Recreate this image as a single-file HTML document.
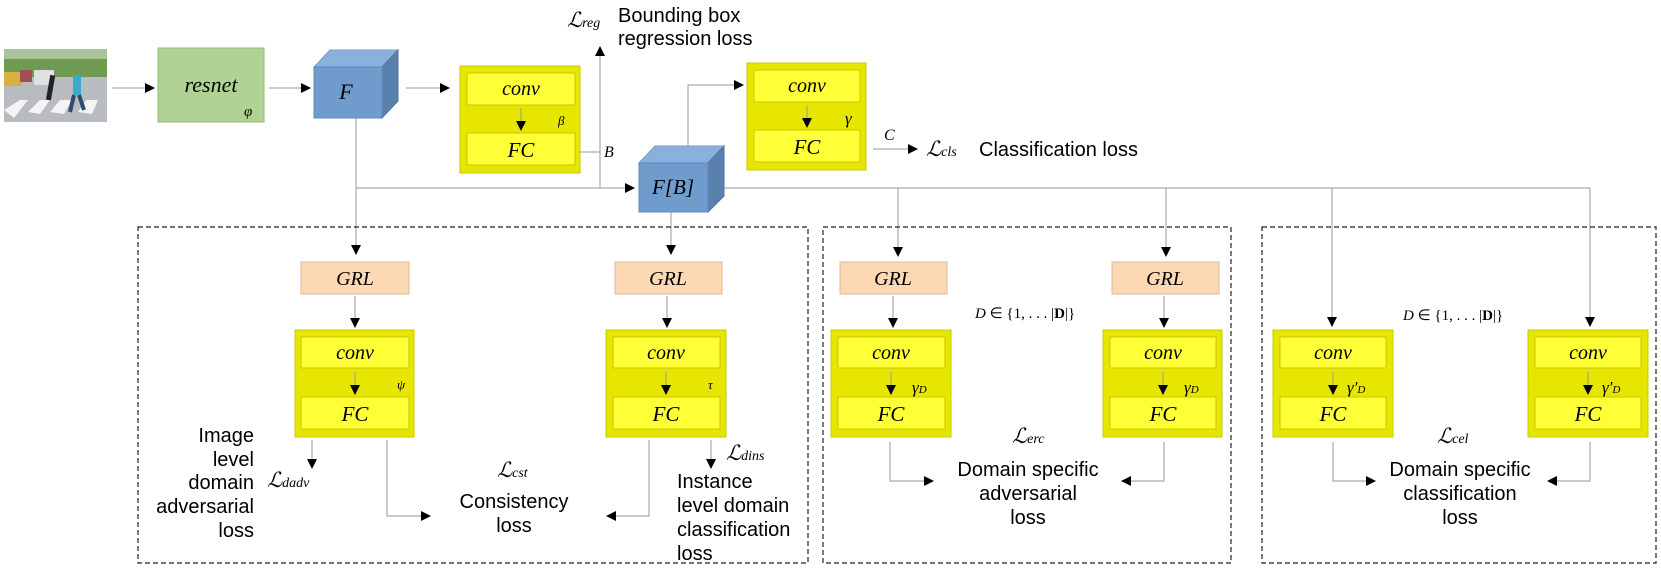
<!DOCTYPE html>
<html><head><meta charset="utf-8"><style>
html,body{margin:0;padding:0;background:#fff;}
svg{display:block;}
.m{font-family:"Liberation Serif",serif;font-style:italic;}
.s{font-family:"Liberation Sans",sans-serif;}
</style></head><body>
<svg width="1661" height="571" viewBox="0 0 1661 571" xmlns="http://www.w3.org/2000/svg">
<defs>
<marker id="a" markerWidth="10" markerHeight="10" refX="9" refY="5" orient="auto" markerUnits="userSpaceOnUse">
<path d="M0,0 L10,5 L0,10 z" fill="#000"/></marker>
<clipPath id="ic"><rect x="4" y="49" width="103" height="73"/></clipPath>
</defs>
<g clip-path="url(#ic)">
<rect x="4" y="49" width="103" height="73" fill="#b8bcc0"/>
<rect x="4" y="49" width="103" height="28" fill="#6f9a52"/>
<rect x="4" y="49" width="103" height="10" fill="#a8c498"/>
<rect x="4" y="72" width="18" height="14" fill="#d8b040"/>
<rect x="20" y="70" width="12" height="12" fill="#a05050"/>
<rect x="34" y="70" width="20" height="15" fill="#e0e0e4"/>
<g fill="#f4f4f4"><polygon points="4,110 20,100 28,100 14,118"/><polygon points="28,112 40,100 50,100 40,114"/><polygon points="50,112 60,100 72,100 64,114"/><polygon points="78,112 86,100 98,100 92,114"/></g>
<rect x="48" y="75" width="5" height="25" fill="#222" transform="rotate(10 50 88)"/>
<rect x="73" y="75" width="8" height="20" fill="#3aaccc"/>
<path d="M74,95 L70,112 M79,95 L84,110" stroke="#304a70" stroke-width="4"/>
</g>
<g stroke="#aaa" stroke-width="1.2" fill="none">
<line x1="112" y1="88" x2="154" y2="88" marker-end="url(#a)"/>
<line x1="269" y1="88" x2="310" y2="88" marker-end="url(#a)"/>
<line x1="406" y1="88" x2="449" y2="88" marker-end="url(#a)"/>
<polyline points="356,118 356,188 634,188" marker-end="url(#a)"/>
<line x1="356" y1="188" x2="356" y2="254" marker-end="url(#a)"/>
<polyline points="580,152 600,152"/>
<line x1="600" y1="188" x2="600" y2="47" marker-end="url(#a)"/>
<polyline points="688,146 688,85 743,85" marker-end="url(#a)"/>
<line x1="873" y1="149" x2="917" y2="149" marker-end="url(#a)"/>
<line x1="724" y1="188" x2="1590" y2="188"/>
<line x1="671" y1="212" x2="671" y2="254" marker-end="url(#a)"/>
<line x1="898" y1="188" x2="898" y2="256" marker-end="url(#a)"/>
<line x1="1166" y1="188" x2="1166" y2="256" marker-end="url(#a)"/>
<line x1="1332" y1="188" x2="1332" y2="326" marker-end="url(#a)"/>
<line x1="1590" y1="188" x2="1590" y2="326" marker-end="url(#a)"/>
<line x1="355" y1="296" x2="355" y2="327" marker-end="url(#a)"/>
<line x1="667" y1="296" x2="667" y2="327" marker-end="url(#a)"/>
<line x1="893" y1="296" x2="893" y2="327" marker-end="url(#a)"/>
<line x1="1164" y1="296" x2="1164" y2="327" marker-end="url(#a)"/>
<line x1="312" y1="440" x2="312" y2="468" marker-end="url(#a)"/>
<line x1="711" y1="440" x2="711" y2="468" marker-end="url(#a)"/>
<polyline points="387,440 387,516 430,516" marker-end="url(#a)"/>
<polyline points="649,440 649,516 607,516" marker-end="url(#a)"/>
<polyline points="890,442 890,481 933,481" marker-end="url(#a)"/>
<polyline points="1164,442 1164,481 1122,481" marker-end="url(#a)"/>
<polyline points="1333,442 1333,481 1375,481" marker-end="url(#a)"/>
<polyline points="1590,442 1590,481 1548,481" marker-end="url(#a)"/>
</g>
<g fill="none" stroke="#222" stroke-width="1.2" stroke-dasharray="5,3">
<rect x="138" y="227" width="670" height="336"/>
<rect x="823" y="227" width="408" height="336"/>
<rect x="1262" y="227" width="394" height="336"/>
</g>
<rect x="158" y="48" width="106" height="74" fill="#b0d394" stroke="#96b87c"/>
<text x="211" y="92" class="m" font-size="22" text-anchor="middle">resnet</text>
<text x="244" y="116" class="m" font-size="15">φ</text>
<!-- cube F -->
<polygon points="314,67 330,50 398,50 382,67" fill="#8cb0dc" stroke="#7a9cc8"/>
<polygon points="382,67 398,50 398,101 382,118" fill="#5a80ad" stroke="#52739c"/>
<rect x="314" y="67" width="68" height="51" fill="#6f9bcd" stroke="#5d88bb"/>
<text x="346" y="99" class="m" font-size="22" text-anchor="middle">F</text>
<!-- cube F[B] -->
<polygon points="639,163 655,146 724,146 708,163" fill="#8cb0dc" stroke="#7a9cc8"/>
<polygon points="708,163 724,146 724,196 708,212" fill="#5a80ad" stroke="#52739c"/>
<rect x="639" y="163" width="69" height="49" fill="#6f9bcd" stroke="#5d88bb"/>
<text x="673" y="194" class="m" font-size="21" text-anchor="middle">F[B]</text>
<g id="yb"></g>
<!-- yellow blocks -->
<g stroke="#c9c900" stroke-width="1">
<rect x="460" y="66" width="120" height="107" fill="#e6e600"/>
<rect x="467" y="73" width="108" height="32" fill="#ffff38"/>
<rect x="467" y="133" width="108" height="32" fill="#ffff38"/>
<rect x="747" y="63" width="119" height="107" fill="#e6e600"/>
<rect x="754" y="70" width="106" height="32" fill="#ffff38"/>
<rect x="754" y="130" width="106" height="32" fill="#ffff38"/>
<rect x="295" y="330" width="119" height="107" fill="#e6e600"/>
<rect x="301" y="337" width="108" height="31" fill="#ffff38"/>
<rect x="301" y="397" width="108" height="32" fill="#ffff38"/>
<rect x="606" y="330" width="120" height="107" fill="#e6e600"/>
<rect x="613" y="337" width="107" height="31" fill="#ffff38"/>
<rect x="613" y="397" width="107" height="32" fill="#ffff38"/>
<rect x="831" y="330" width="120" height="107" fill="#e6e600"/>
<rect x="838" y="337" width="107" height="31" fill="#ffff38"/>
<rect x="838" y="397" width="107" height="32" fill="#ffff38"/>
<rect x="1103" y="330" width="119" height="107" fill="#e6e600"/>
<rect x="1110" y="337" width="106" height="31" fill="#ffff38"/>
<rect x="1110" y="397" width="106" height="32" fill="#ffff38"/>
<rect x="1273" y="330" width="120" height="107" fill="#e6e600"/>
<rect x="1280" y="337" width="106" height="31" fill="#ffff38"/>
<rect x="1280" y="397" width="106" height="32" fill="#ffff38"/>
<rect x="1528" y="330" width="120" height="107" fill="#e6e600"/>
<rect x="1535" y="337" width="106" height="31" fill="#ffff38"/>
<rect x="1535" y="397" width="106" height="32" fill="#ffff38"/>
</g>
<g stroke="#999" stroke-width="1">
<line x1="521" y1="108" x2="521" y2="130" marker-end="url(#a)"/>
<line x1="807" y1="105" x2="807" y2="127" marker-end="url(#a)"/>
<line x1="355" y1="372" x2="355" y2="394" marker-end="url(#a)"/>
<line x1="666" y1="372" x2="666" y2="394" marker-end="url(#a)"/>
<line x1="891" y1="372" x2="891" y2="394" marker-end="url(#a)"/>
<line x1="1163" y1="372" x2="1163" y2="394" marker-end="url(#a)"/>
<line x1="1333" y1="372" x2="1333" y2="394" marker-end="url(#a)"/>
<line x1="1588" y1="372" x2="1588" y2="394" marker-end="url(#a)"/>
</g>
<g class="m" text-anchor="middle">
<text x="521" y="95" font-size="20">conv</text><text x="521" y="157" font-size="21">FC</text>
<text x="807" y="92" font-size="20">conv</text><text x="807" y="154" font-size="21">FC</text>
<text x="355" y="359" font-size="20">conv</text><text x="355" y="421" font-size="21">FC</text>
<text x="666" y="359" font-size="20">conv</text><text x="666" y="421" font-size="21">FC</text>
<text x="891" y="359" font-size="20">conv</text><text x="891" y="421" font-size="21">FC</text>
<text x="1163" y="359" font-size="20">conv</text><text x="1163" y="421" font-size="21">FC</text>
<text x="1333" y="359" font-size="20">conv</text><text x="1333" y="421" font-size="21">FC</text>
<text x="1588" y="359" font-size="20">conv</text><text x="1588" y="421" font-size="21">FC</text>
</g>
<!-- GRL -->
<g fill="#fdd9b3" stroke="#d9bb9a">
<rect x="301" y="262" width="108" height="32"/>
<rect x="615" y="262" width="107" height="32"/>
<rect x="840" y="262" width="107" height="32"/>
<rect x="1112" y="262" width="107" height="32"/>
</g>
<g class="m" font-size="20" text-anchor="middle">
<text x="355" y="285">GRL</text><text x="668" y="285">GRL</text>
<text x="893" y="285">GRL</text><text x="1165" y="285">GRL</text>
</g>
<g class="m">
<text x="558" y="125" font-size="13">β</text>
<text x="845" y="124" font-size="17">γ</text>
<text x="397" y="389" font-size="13">ψ</text>
<text x="708" y="389" font-size="13">τ</text>
<text x="912" y="393" font-size="17">γ<tspan font-size="11">D</tspan></text>
<text x="1184" y="393" font-size="17">γ<tspan font-size="11">D</tspan></text>
<text x="1347" y="393" font-size="17">γ′<tspan font-size="11">D</tspan></text>
<text x="1602" y="393" font-size="17">γ′<tspan font-size="11">D</tspan></text>
<text x="604" y="157" font-size="16">B</text>
<text x="884" y="140" font-size="16">C</text>
<text x="567" y="27" font-size="21">ℒ<tspan font-size="14">reg</tspan></text>
<text x="926" y="156" font-size="21">ℒ<tspan font-size="14">cls</tspan></text>
<text x="267" y="487" font-size="21">ℒ<tspan font-size="14">dadv</tspan></text>
<text x="726" y="460" font-size="21">ℒ<tspan font-size="14">dins</tspan></text>
<text x="497" y="477" font-size="21">ℒ<tspan font-size="14">cst</tspan></text>
<text x="1012" y="443" font-size="21">ℒ<tspan font-size="14">erc</tspan></text>
<text x="1437" y="443" font-size="21">ℒ<tspan font-size="14">cel</tspan></text>
</g>
<g font-family="Liberation Serif,serif" font-size="15">
<text x="975" y="318"><tspan font-style="italic">D</tspan> ∈ {1, . . . |<tspan font-weight="bold">D</tspan>|}</text>
<text x="1403" y="320"><tspan font-style="italic">D</tspan> ∈ {1, . . . |<tspan font-weight="bold">D</tspan>|}</text>
</g>
<g class="s" font-size="20" fill="#000">
<text x="618" y="22">Bounding box</text>
<text x="618" y="45">regression loss</text>
<text x="979" y="156">Classification loss</text>
<g text-anchor="end">
<text x="254" y="442">Image</text><text x="254" y="466">level</text><text x="254" y="489">domain</text><text x="254" y="513">adversarial</text><text x="254" y="537">loss</text>
</g>
<g text-anchor="middle">
<text x="514" y="508">Consistency</text><text x="514" y="532">loss</text>
<text x="1028" y="476">Domain specific</text><text x="1028" y="500">adversarial</text><text x="1028" y="524">loss</text>
<text x="1460" y="476">Domain specific</text><text x="1460" y="500">classification</text><text x="1460" y="524">loss</text>
</g>
<text x="677" y="488">Instance</text><text x="677" y="512">level domain</text><text x="677" y="536">classification</text><text x="677" y="560">loss</text>
</g>
</svg>
</body></html>
